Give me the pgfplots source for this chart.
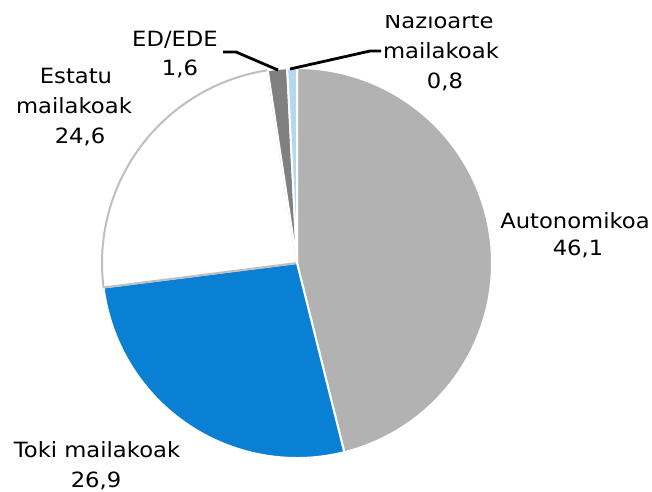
\documentclass[border=0pt]{standalone}
\usepackage{pgfplots}
\pgfplotsset{compat=1.18}
\usepackage{fontspec}
\setmainfont{DejaVu Sans}[FakeStretch=1.08]
\definecolor{cAuto}{HTML}{B2B2B2}
\definecolor{cToki}{HTML}{0A80D5}
\definecolor{cEstOut}{HTML}{BFBFBF}
\definecolor{cED}{HTML}{808080}
\definecolor{cNaz}{HTML}{B4D8F2}
% data (percent)
\def\vA{46.1}% Autonomikoa
\def\vB{26.9}% Toki mailakoak
\def\vC{24.6}% Estatu mailakoak
\def\vD{1.6}%  ED/EDE
\def\vE{0.8}%  Nazioarte mailakoak
\pgfmathsetmacro{\aA}{\vA*3.6}
\pgfmathsetmacro{\aB}{(\vA+\vB)*3.6}
\pgfmathsetmacro{\aC}{(\vA+\vB+\vC)*3.6}
\pgfmathsetmacro{\aD}{(\vA+\vB+\vC+\vD)*3.6}
\pgfmathsetmacro{\aE}{(\vA+\vB+\vC+\vD+\vE)*3.6}
\def\cx{297}\def\cy{263}\def\R{195}
\begin{document}
\begin{tikzpicture}
\begin{axis}[x=1pt,y=1pt,y dir=reverse,xmin=0,xmax=652,ymin=0,ymax=491,
  hide axis,clip=false,anchor=north west,at={(0,0)},
  every axis plot/.append style={line join=round}]
\addplot[fill=cAuto,draw=white,line width=2pt,domain=0:\aA,samples=120]
  ({\cx+\R*sin(x)},{\cy-\R*cos(x)}) -- (axis cs:\cx,\cy) -- cycle;
\addplot[fill=cToki,draw=white,line width=2pt,domain=\aA:\aB,samples=80]
  ({\cx+\R*sin(x)},{\cy-\R*cos(x)}) -- (axis cs:\cx,\cy) -- cycle;
\addplot[fill=white,draw=cEstOut,line width=2pt,domain=\aB:\aC,samples=80]
  ({\cx+\R*sin(x)},{\cy-\R*cos(x)}) -- (axis cs:\cx,\cy) -- cycle;
\addplot[fill=cED,draw=white,line width=2pt,domain=\aC:\aD,samples=10]
  ({\cx+\R*sin(x)},{\cy-\R*cos(x)}) -- (axis cs:\cx,\cy) -- cycle;
\addplot[fill=cNaz,draw=white,line width=2pt,domain=\aD:\aE,samples=10]
  ({\cx+\R*sin(x)},{\cy-\R*cos(x)}) -- (axis cs:\cx,\cy) -- cycle;
% leader lines
\addplot[black,line width=2.8pt,mark=none] coordinates {(223,52) (236,52) (278,70)};
\addplot[black,line width=2.8pt,mark=none] coordinates {(290,69) (370,51) (381,51)};
% labels
\begin{scope}[every node/.style={anchor=base,inner sep=0pt,font=\fontsize{21}{29}\selectfont}]
\node at (axis cs:575,228) {Autonomikoa};
\node at (axis cs:578,255.5) {46,1};
\node at (axis cs:97,457) {Toki mailakoak};
\node at (axis cs:96,487) {26,9};
\node at (axis cs:76,83) {Estatu};
\node at (axis cs:74,113) {mailakoak};
\node at (axis cs:80,143) {24,6};
\node at (axis cs:175,46) {ED/EDE};
\node at (axis cs:180,75) {1,6};
\node at (axis cs:441,58) {mailakoak};
\node at (axis cs:445,88) {0,8};
\begin{scope}
\clip (axis cs:370,15) rectangle (axis cs:520,40);
\node at (axis cs:439,28) {Nazioarte};
\end{scope}
\end{scope}
\end{axis}
\pgfresetboundingbox
\useasboundingbox (0,0) rectangle (652pt,-491pt);
\end{tikzpicture}
\end{document}
